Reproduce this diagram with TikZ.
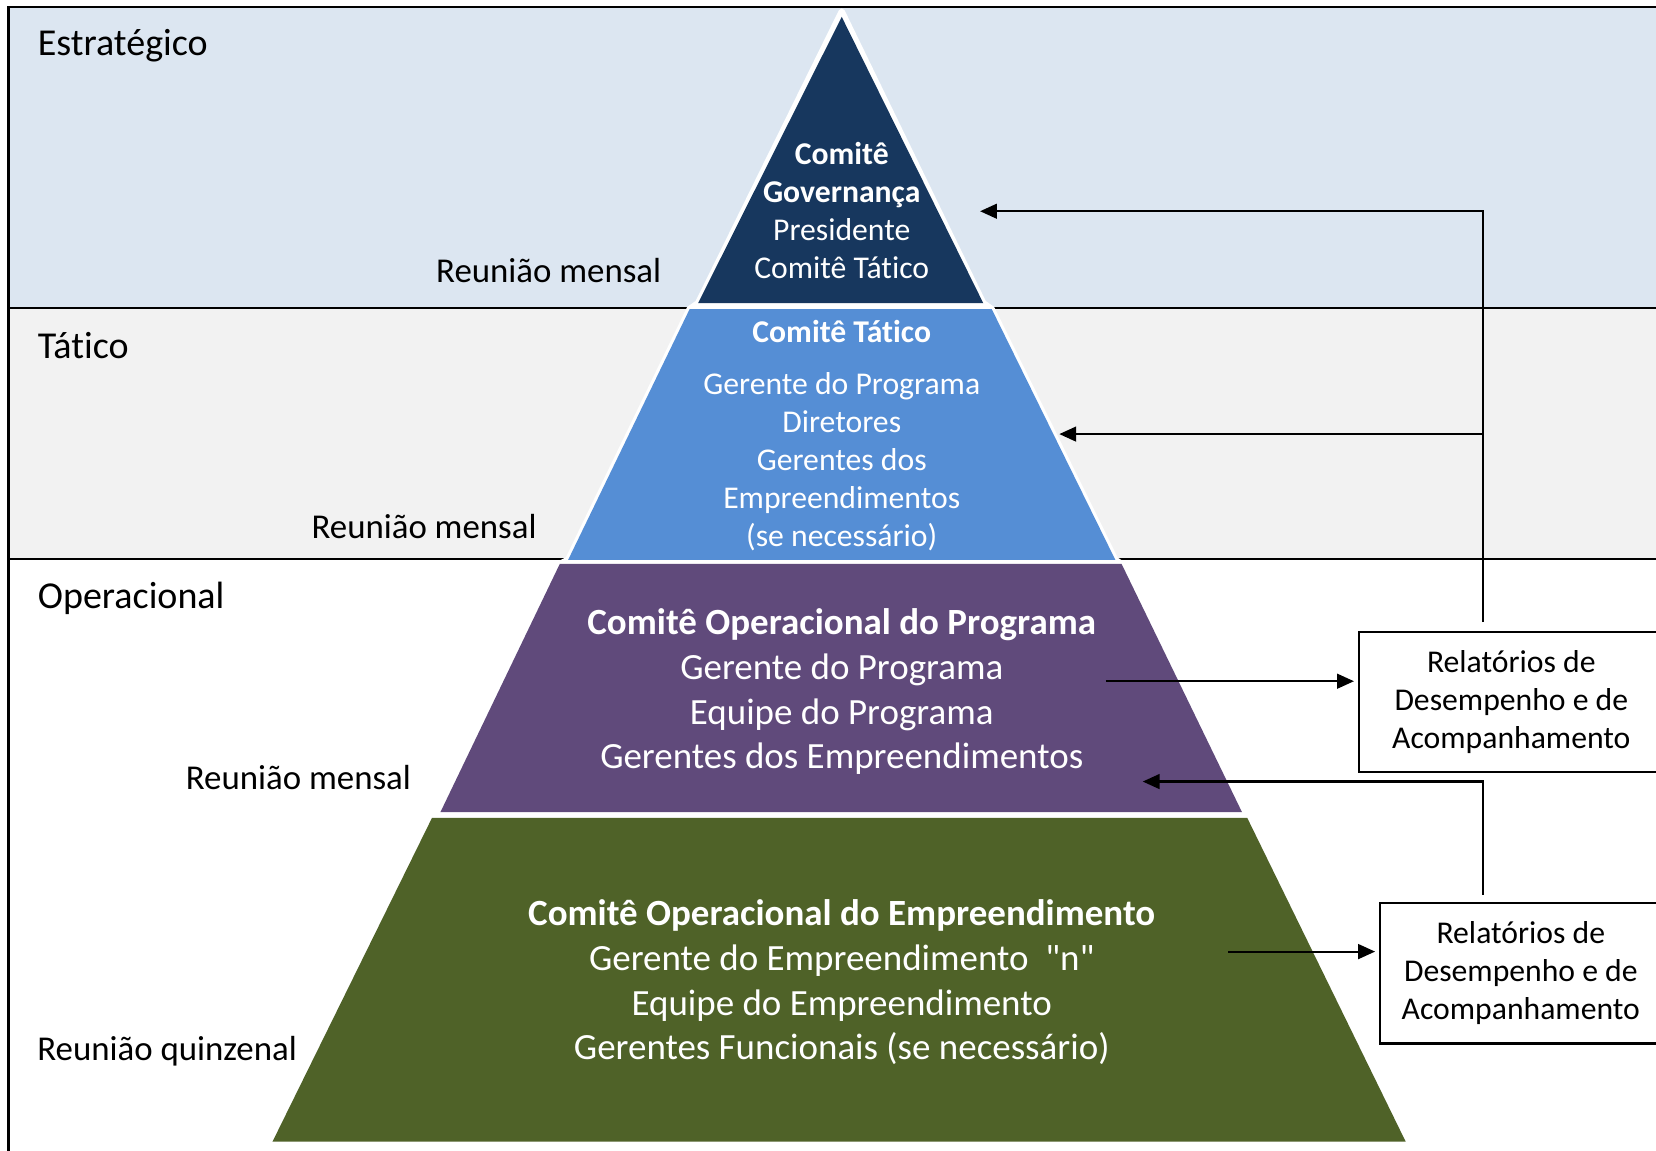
\documentclass[tikz,border=0pt]{standalone}
\usepackage{fontspec}
\setmainfont{Carlito}[Ligatures={TeX,NoCommon}]
\usepackage{xcolor}
\usepackage{tikz}
\usetikzlibrary{arrows.meta}
\definecolor{cEstrat}{HTML}{DCE6F1}
\definecolor{cTatico}{HTML}{F2F2F2}
\definecolor{cGov}{HTML}{17375E}
\definecolor{cTat}{HTML}{558ED5}
\definecolor{cOpProg}{HTML}{604A7B}
\definecolor{cOpEmp}{HTML}{4F6228}

\begin{document}
\begin{tikzpicture}[x=0.5pt,y=0.5pt,yscale=-1,xscale=1,
  nivel/.style={anchor=base west,inner sep=0.75pt,font=\fontsize{18}{21.6}\selectfont},
  reuniao/.style={anchor=base east,inner sep=0.75pt,font=\fontsize{16.5}{20}\selectfont},
  txtpeq/.style={text=white,align=center,inner sep=0.75pt,font=\fontsize{15}{18}\selectfont},
  txtgr/.style={text=white,align=center,inner sep=0.75pt,font=\fontsize{17.5}{21.2}\selectfont},
  relat/.style={draw,line width=1pt,fill=white,align=center,minimum height=66.5pt,inner sep=0pt,font=\fontsize{15}{18}\selectfont},
  seta/.style={line width=1pt,-{Triangle[length=8pt,width=7pt]}}]
\useasboundingbox (0,0) rectangle (1568,1089);
\clip (0,0) rectangle (1568,1089);
%Faixas
\fill[cEstrat] (8,7) rectangle (1568,292);
\fill[cTatico] (8,292) rectangle (1568,529);
\draw[line width=1pt] (8,1095) -- (8,7) -- (1575,7);
\draw[line width=1pt] (8,292) -- (1575,292);
\draw[line width=1pt] (8,529) -- (1575,529);
%Piramide
\filldraw[white,line width=3pt,line join=round] (797,11) -- (931,287) -- (939,292.6) -- (1056,530) -- (1062,534) -- (1176,769) -- (1181,774.5) -- (1331,1082) -- (258,1082) -- (409,774.5) -- (417,769) -- (530,534) -- (538,530) -- (653,292.6) -- (661,287) -- cycle;
\fill[cGov] (797,16) -- (931,287) -- (661,287) -- cycle;
\fill[cTat] (653,292.6) -- (939,292.6) -- (1056,530) -- (538,530) -- cycle;
\fill[cOpProg] (530,534) -- (1062,534) -- (1176,769) -- (417,769) -- cycle;
\fill[cOpEmp] (409,774.5) -- (1181,774.5) -- (1331,1081) -- (258,1081) -- cycle;
%Text
\node (estr) [nivel] at (34,53) {Estratégico};
\node (tatc) [nivel] at (34,339) {Tático};
\node (oper) [nivel] at (34,576) {Operacional};
\node (reun1) [reuniao] at (628,267.5) {Reunião mensal};
\node (reun2) [reuniao] at (510,509.5) {Reunião mensal};
\node (reun3) [reuniao] at (391,747.5) {Reunião mensal};
\node (reun4) [reuniao] at (283,1004.5) {Reunião quinzenal};
\node (gov) [txtpeq] at (797,199.5) {\textbf{Comitê}\\\textbf{Governança}\\Presidente\\Comitê Tático};
\node (tat) [txtpeq] at (797,412.5) {\textbf{Comitê Tático}\\[6.5pt]Gerente do Programa\\Diretores\\Gerentes dos\\Empreendimentos\\(se necessário)};
\node (opprog) [txtgr] at (797,655) {\textbf{Comitê Operacional do Programa}\\Gerente do Programa\\Equipe do Programa\\Gerentes dos Empreendimentos};
\node (opemp) [txtgr] at (797,930) {\textbf{Comitê Operacional do Empreendimento}\\Gerente do Empreendimento~~\textquotedbl n\textquotedbl\\Equipe do Empreendimento\\Gerentes Funcionais (se necessário)};
\node (rel1) [relat,minimum width=144pt] at (1431,664.5) {Relatórios de\\Desempenho e de\\Acompanhamento};
\node (rel2) [relat,minimum width=133pt] at (1440,921.5) {Relatórios de\\Desempenho e de\\Acompanhamento};
%Setas
\coordinate (sprog) at (1047,645);
\coordinate (semp) at (1163,901);
\coordinate (egov) at (928,200);
\coordinate (etat) at (1003,411);
\coordinate (eprog) at (1082,740);
\coordinate (barra) at (1404,411);
\draw[seta,shorten >=2pt] (sprog) -- (sprog -| rel1.west);
\draw[seta,shorten >=2pt] (semp) -- (semp -| rel2.west);
\draw[seta] (rel1.north -| barra) ++(0,-8) |- (egov);
\draw[seta] (barra) -- (etat);
\draw[seta] (rel2.north -| barra) ++(0,-7) |- (eprog);
\end{tikzpicture}
\end{document}
